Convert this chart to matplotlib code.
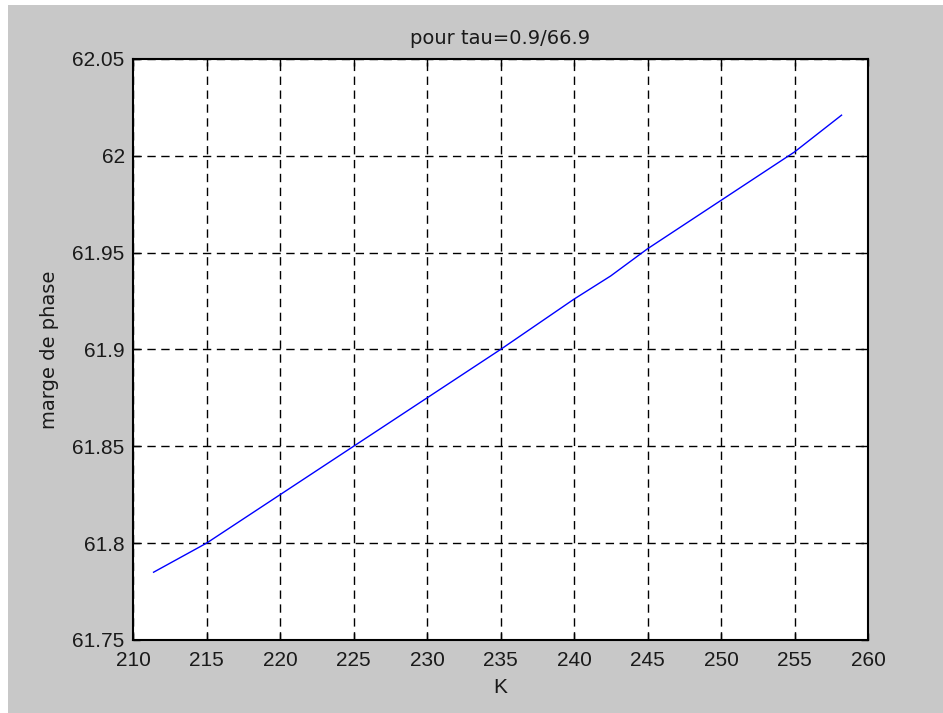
import matplotlib
matplotlib.use("Agg")
import matplotlib.pyplot as plt
from matplotlib.patches import Rectangle

# Data
K = [211.4, 215.0, 220.0, 225.0, 230.0, 235.0, 240.0, 242.5, 245.0, 250.0, 255.0, 258.2]
marge = [61.785, 61.800, 61.825, 61.850, 61.875, 61.900, 61.926, 61.938, 61.952, 61.977, 62.002, 62.021]

xticks = [210, 215, 220, 225, 230, 235, 240, 245, 250, 255, 260]
yticks = [61.75, 61.8, 61.85, 61.9, 61.95, 62.0, 62.05]
yticklabels = ["61.75", "61.8", "61.85", "61.9", "61.95", "62", "62.05"]

plt.rcParams['font.family'] = ['Liberation Sans', 'DejaVu Sans']

W, H = 943, 713
fig = plt.figure(figsize=(W / 100, H / 100), dpi=100)
fig.patch.set_facecolor('white')
fig.patches.append(Rectangle((8 / W, 0), 1 - 8 / W, 1 - 5 / H, transform=fig.transFigure,
                             facecolor='#c8c8c8', edgecolor='none', zorder=-10))

ax = fig.add_axes([133 / W, (H - 640) / H, (868 - 133) / W, (640 - 59) / H])
ax.set_facecolor('white')
ax.plot(K, marge, color='#0000ff', lw=1.0)
ax.set_xlim(210, 260)
ax.set_ylim(61.75, 62.05)
ax.set_xticks(xticks)
ax.set_xticklabels([str(t) for t in xticks])
ax.set_yticks(yticks)
ax.set_yticklabels(yticklabels)
ax.grid(True, color='black', linestyle=(0, (6, 4)), linewidth=1.0)
ax.tick_params(direction='in', length=5, width=1, labelsize=15, top=True, right=True,
               colors='black', labelcolor='#1a1a1a')
ax.tick_params(axis='x', pad=8)
ax.tick_params(axis='y', pad=6)
for s in ax.spines.values():
    s.set_linewidth(1.5)
    s.set_color('black')

ax.set_title('pour tau=0.9/66.9', fontsize=14, pad=11, color='#1a1a1a', family='DejaVu Sans')
ax.set_xlabel('K', fontsize=15, labelpad=6, color='#1a1a1a')
ax.set_ylabel('marge de phase', fontsize=14, labelpad=10, color='#1a1a1a', family='DejaVu Sans')

fig.savefig('out.png', dpi=100, facecolor=fig.get_facecolor())
